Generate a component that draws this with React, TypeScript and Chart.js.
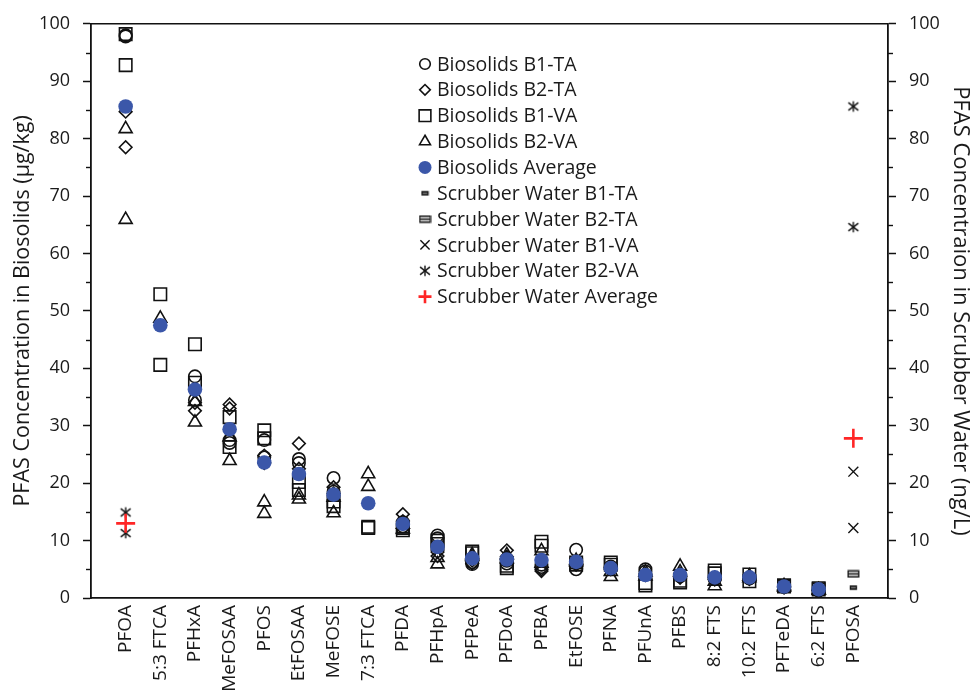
import { useEffect, useRef } from 'react';
import { Chart, registerables } from 'chart.js';
import { drawPoint } from 'chart.js/helpers';

Chart.register(...registerables);

const categories = [
  'PFOA', '5:3 FTCA', 'PFHxA', 'MeFOSAA', 'PFOS', 'EtFOSAA', 'MeFOSE', '7:3 FTCA',
  'PFDA', 'PFHpA', 'PFPeA', 'PFDoA', 'PFBA', 'EtFOSE', 'PFNA', 'PFUnA', 'PFBS',
  '8:2 FTS', '10:2 FTS', 'PFTeDA', '6:2 FTS', 'PFOSA',
];

const yTickValues = [0, 10, 20, 30, 40, 50, 60, 70, 80, 90, 100];
const yMinorTickValues = [5, 15, 25, 35, 45, 55, 65, 75, 85, 95];

// Biosolids (µg/kg), replicate values per category
const bioB1TA = [[98.0, 97.8], [], [38.6, 34.5], [27.5, 27.0], [27.5, 24.5], [24.2, 23.5], [20.9, 18.5], [], [13.2, 12.5], [10.9, 10.4], [6.2, 5.9], [6.5, 6.0], [5.8, 5.4], [8.4, 5.0], [5.5, 5.2], [5.0, 4.6], [4.0, 3.8], [3.5, 3.3], [3.5, 3.4], [2.1, 1.9], [1.4, 1.3], []];
const bioB2TA = [[84.7, 78.5], [], [34.0, 32.6], [33.7, 33.0], [24.8, 23.5], [26.9, 22.5], [19.3, 18.2], [], [14.6, 13.4], [8.0, 7.3], [6.5, 6.0], [8.3, 7.2], [5.0, 4.7], [6.0, 5.8], [5.0, 5.3], [4.2, 4.0], [4.2, 3.5], [3.6, 3.2], [3.6, 3.3], [2.0, 1.8], [1.4, 1.3], []];
const bioB1VA = [[98.2, 92.8], [52.9, 40.6], [44.2, 37.5], [31.5, 26.3], [29.2, 27.8], [20.2, 18.8], [16.8, 16.0], [12.4, 12.2], [12.2, 11.8], [10.0, 9.4], [8.1, 7.8], [5.6, 5.2], [9.8, 9.1], [6.2, 5.8], [6.2, 5.8], [2.6, 2.2], [3.0, 2.7], [4.8, 4.3], [4.1, 2.9], [2.2, 2.0], [1.7, 1.5], []];
const bioB2VA = [[81.7, 65.9], [48.7], [34.2, 30.6], [28.0, 23.9], [16.7, 14.7], [17.9, 17.2], [17.5, 14.8], [21.6, 19.4], [12.0, 12.8], [7.0, 5.9], [7.5, 7.2], [7.5, 6.8], [8.2, 6.0], [6.5, 6.3], [4.6, 3.7], [4.5, 3.8], [5.5, 4.5], [2.9, 2.1], [3.5, 3.8], [1.9, 2.1], [1.4, 1.3], []];
const bioAverage = [[85.6], [47.5], [36.3], [29.4], [23.6], [21.6], [18.0], [16.5], [12.9], [8.9], [6.9], [6.7], [6.6], [6.3], [5.2], [4.0], [4.0], [3.6], [3.6], [2.0], [1.5], []];

// Scrubber water (ng/L)
const swB1TA = [[], [], [], [], [], [], [], [], [], [], [], [], [], [], [], [], [], [], [], [], [], [1.8]];
const swB2TA = [[], [], [], [], [], [], [], [], [], [], [], [], [], [], [], [], [], [], [], [], [], [4.2]];
const swB1VA = [[], [], [], [], [], [], [], [], [], [], [], [], [], [], [], [], [], [], [], [], [], [22.0, 12.2]];
const swB2VA = [[14.9, 11.3], [], [], [], [], [], [], [], [], [], [], [], [], [], [], [], [], [], [], [], [], [85.6, 64.6]];
const swAverage = [[13.0], [], [], [], [], [], [], [], [], [], [], [], [], [], [], [], [], [], [], [], [], [27.8]];

const FONT = '"Open Sans", "Noto Sans", sans-serif';
const TEXT = '#1a1a1a';
const BLUE = '#3b57a9';
const RED = '#ff2626';

function toPoints(rows: number[][]) {
  return rows.flatMap((vals, i) => vals.map((v) => ({ x: i + 1, y: v })));
}

function makeAsterisk() {
  const c = document.createElement('canvas');
  c.width = 16; c.height = 16;
  const g = c.getContext('2d')!;
  g.strokeStyle = '#111'; g.lineWidth = 1.4;
  const cx = 8, cy = 8;
  [[90, 5.2], [38, 6.3], [142, 6.3]].forEach(([deg, r]) => {
    const a = (deg * Math.PI) / 180;
    g.beginPath();
    g.moveTo(cx - Math.cos(a) * r, cy - Math.sin(a) * r);
    g.lineTo(cx + Math.cos(a) * r, cy + Math.sin(a) * r);
    g.stroke();
  });
  return c;
}
function makeDash() {
  const c = document.createElement('canvas');
  c.width = 9; c.height = 7;
  const g = c.getContext('2d')!;
  g.fillStyle = '#777'; g.strokeStyle = '#111'; g.lineWidth = 1.3;
  g.beginPath(); g.rect(1.5, 2, 6, 3); g.fill(); g.stroke();
  return c;
}
function makeDoubleDash() {
  const c = document.createElement('canvas');
  c.width = 13; c.height = 9;
  const g = c.getContext('2d')!;
  g.fillStyle = '#ddd'; g.strokeStyle = '#111'; g.lineWidth = 1.3;
  g.beginPath(); g.rect(1.2, 1.5, 10.6, 6); g.fill(); g.stroke();
  g.beginPath(); g.moveTo(1.2, 4.5); g.lineTo(11.8, 4.5); g.stroke();
  return c;
}

export default function App() {
  const ref = useRef<HTMLCanvasElement | null>(null);

  useEffect(() => {
    document.body.style.margin = '0';
    const canvas = ref.current!;
    const asterisk = makeAsterisk();
    const dash = makeDash();
    const doubleDash = makeDoubleDash();

    const open = { backgroundColor: 'rgba(0,0,0,0)', borderColor: '#111', borderWidth: 1.6 };
    const datasets: any[] = [
      { label: 'Biosolids B1-TA', data: toPoints(bioB1TA), pointStyle: 'circle', pointRadius: 6.2, legendRadius: 5.3, yAxisID: 'y', order: 2, ...open },
      { label: 'Biosolids B2-TA', data: toPoints(bioB2TA), pointStyle: 'rectRot', pointRadius: 6.3, legendRadius: 5.3, yAxisID: 'y', order: 2, ...open },
      { label: 'Biosolids B1-VA', data: toPoints(bioB1VA), pointStyle: 'rect', pointRadius: 8.8, legendRadius: 8.3, yAxisID: 'y', order: 2, ...open },
      { label: 'Biosolids B2-VA', data: toPoints(bioB2VA), pointStyle: 'triangle', pointRadius: 7.5, legendRadius: 6.3, yAxisID: 'y', order: 2, ...open },
      { label: 'Biosolids Average', data: toPoints(bioAverage), pointStyle: 'circle', pointRadius: 7.3, legendRadius: 6.5, yAxisID: 'y', order: 1, backgroundColor: BLUE, borderColor: BLUE, borderWidth: 0 },
      { label: 'Scrubber Water B1-TA', data: toPoints(swB1TA), pointStyle: dash, pointRadius: 5, yAxisID: 'y2', order: 2, backgroundColor: '#777', borderColor: '#111', borderWidth: 1 },
      { label: 'Scrubber Water B2-TA', data: toPoints(swB2TA), pointStyle: doubleDash, pointRadius: 6, yAxisID: 'y2', order: 2, backgroundColor: '#ddd', borderColor: '#111', borderWidth: 1 },
      { label: 'Scrubber Water B1-VA', data: toPoints(swB1VA), pointStyle: 'crossRot', pointRadius: 7, legendRadius: 6.5, yAxisID: 'y2', order: 2, backgroundColor: 'rgba(0,0,0,0)', borderColor: '#111', borderWidth: 1.4 },
      { label: 'Scrubber Water B2-VA', data: toPoints(swB2VA), pointStyle: asterisk, pointRadius: 6, yAxisID: 'y2', order: 2, backgroundColor: 'rgba(0,0,0,0)', borderColor: '#111', borderWidth: 1.4 },
      { label: 'Scrubber Water Average', data: toPoints(swAverage), pointStyle: 'cross', pointRadius: 9.5, legendRadius: 6.5, yAxisID: 'y2', order: 0, backgroundColor: RED, borderColor: RED, borderWidth: 2.6 },
    ];
    datasets.forEach((d) => { d.pointHoverRadius = d.pointRadius; d.showLine = false; });

    const insideLegend = {
      id: 'insideLegend',
      afterDraw(chart: any) {
        const ctx = chart.ctx;
        ctx.save();
        ctx.font = `19.5px ${FONT}`;
        ctx.textBaseline = 'middle';
        ctx.textAlign = 'left';
        chart.data.datasets.forEach((ds: any, i: number) => {
          const y = 64 + i * 25.85;
          const x = 425;
          ctx.save();
          ctx.fillStyle = ds.backgroundColor;
          ctx.strokeStyle = ds.borderColor;
          ctx.lineWidth = ds.borderWidth;
          drawPoint(ctx, { pointStyle: ds.pointStyle, radius: ds.legendRadius ?? ds.pointRadius, rotation: 0, borderWidth: ds.borderWidth }, x, y);
          ctx.restore();
          ctx.fillStyle = TEXT;
          ctx.fillText(ds.label, 437, y + 1);
        });
        ctx.restore();
      },
    };

    const frame = {
      id: 'frame',
      afterDraw(chart: any) {
        const { ctx, chartArea } = chart;
        const yl = chart.scales.y;
        const yr = chart.scales.y2;
        ctx.save();
        ctx.strokeStyle = '#111';
        ctx.lineWidth = 1.5;
        ctx.beginPath();
        ctx.moveTo(chartArea.left, chartArea.top);
        ctx.lineTo(chartArea.right, chartArea.top);
        ctx.stroke();
        ctx.lineWidth = 1.4;
        yMinorTickValues.forEach((v) => {
          const py = Math.round(yl.getPixelForValue(v)) + 0.5;
          ctx.beginPath();
          ctx.moveTo(chartArea.left - 5, py);
          ctx.lineTo(chartArea.left, py);
          ctx.stroke();
          const pr = Math.round(yr.getPixelForValue(v)) + 0.5;
          ctx.beginPath();
          ctx.moveTo(chartArea.right, pr);
          ctx.lineTo(chartArea.right + 5, pr);
          ctx.stroke();
        });
        ctx.restore();
      },
    };

    const yAxis = (position: 'left' | 'right', title: string, width: number, titleSize: number, titlePad: number) => ({
      type: 'linear',
      position,
      min: 0,
      max: 100,
      afterBuildTicks: (axis: any) => { axis.ticks = yTickValues.map((v) => ({ value: v })); },
      afterFit: (scale: any) => { scale.width = width; },
      ticks: { font: { family: FONT, size: 18 }, color: TEXT, padding: 13 },
      grid: { drawOnChartArea: false, tickLength: 8, tickWidth: 1.5, tickColor: '#111' },
      border: { display: true, color: '#111', width: 1.8 },
      title: { display: true, text: title, font: { family: FONT, size: titleSize }, color: TEXT, padding: { top: titlePad, bottom: 0 } },
    });

    const chart = new Chart(canvas, {
      type: 'scatter',
      data: { datasets },
      options: {
        animation: false,
        responsive: false,
        layout: { padding: { top: 20, left: 0, right: 0, bottom: 0 } },
        plugins: { legend: { display: false }, tooltip: { enabled: false } },
        scales: {
          x: {
            type: 'linear',
            min: 0,
            max: 23,
            afterBuildTicks: (axis: any) => { axis.ticks = categories.map((_, i) => ({ value: i + 1 })); },
            afterFit: (scale: any) => { scale.height = 96; },
            ticks: {
              autoSkip: false,
              minRotation: 90,
              maxRotation: 90,
              padding: 7,
              font: { family: FONT, size: 19 },
              color: TEXT,
              callback: (v: any) => categories[Number(v) - 1] ?? '',
            },
            grid: { drawOnChartArea: false, drawTicks: false },
            border: { display: true, color: '#111', width: 1.8 },
          },
          y: yAxis('left', 'PFAS Concentration in Biosolids (µg/kg)', 91, 21.5, 10),
          y2: yAxis('right', 'PFAS Concentraion in Scrubber Water (ng/L)', 83, 22, -2),
        } as any,
      },
      plugins: [insideLegend, frame],
    } as any);

    return () => chart.destroy();
  }, []);

  return (
    <div style={{ width: 971, height: 694, background: '#fff' }}>
      <canvas ref={ref} width={971} height={694} style={{ display: 'block' }} />
    </div>
  );
}
